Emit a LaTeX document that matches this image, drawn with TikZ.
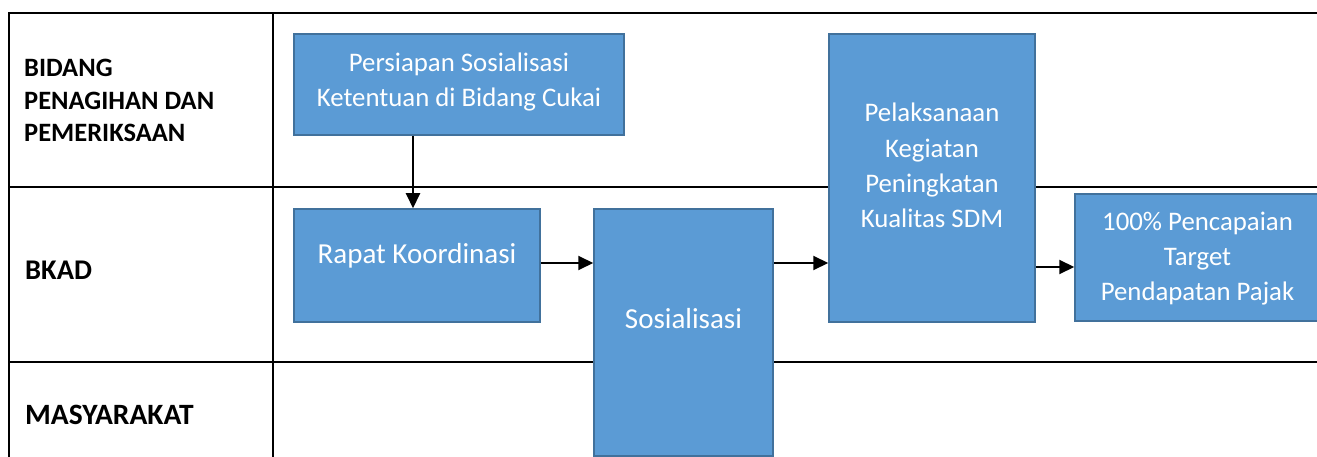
\documentclass[tikz,border=0pt]{standalone}
\usepackage{fontspec}
\setmainfont{Carlito}
\usetikzlibrary{arrows.meta}
\definecolor{boxfill}{HTML}{5B9BD5}
\definecolor{boxline}{HTML}{41719C}
\begin{document}
\begin{tikzpicture}[x=1pt,y=-1pt,
  lane/.style={line width=2pt, black},
  stepbox/.style={draw=boxline, fill=boxfill, line width=1.5pt, inner sep=0pt},
  boxtext/.style={text=white, align=center, inner sep=0pt, font=\fontsize{26.8}{35}\selectfont},
  bigtext/.style={text=white, align=center, inner sep=0pt, font=\fontsize{29}{35}\selectfont},
  lanelabel/.style={align=left, inner sep=0pt, anchor=base west},
  flow/.style={line width=2pt, -{Triangle[length=15pt,width=14pt]}}]
\useasboundingbox (0,0) rectangle (1317,457);
\fill[white] (0,0) rectangle (1317,457);

% swimlane grid
\draw[lane] (1317,13) -- (9,13) -- (9,457);
\draw[lane] (273,13) -- (273,457);
\draw[lane] (9,187) -- (1317,187);
\draw[lane] (9,362) -- (1317,362);

% lane titles (anchored on the baseline of their last line)
\node[lanelabel, font=\bfseries\fontsize{26.5}{32.5}\selectfont] (laneA) at (24,141.7) {BIDANG\\PENAGIHAN DAN\\PEMERIKSAAN};
\node[lanelabel, font=\bfseries\fontsize{28.5}{32.5}\selectfont] (laneB) at (25,279) {BKAD};
\node[lanelabel, font=\bfseries\fontsize{29.5}{32.5}\selectfont] (laneC) at (25,424) {MASYARAKAT};

% process boxes
\node[stepbox, minimum width=330pt, minimum height=101pt] (Persiapan) at (459,84.5) {};
\node[stepbox, minimum width=246pt, minimum height=113pt] (Rapat) at (417,265.5) {};
\node[stepbox, minimum width=179pt, minimum height=247pt] (Sos) at (683.5,332.5) {};
\node[stepbox, minimum width=206pt, minimum height=288pt] (Pelak) at (932,178) {};
\node[stepbox, minimum width=245pt, minimum height=127pt] (Target) at (1197.5,257.5) {};

% box captions
\node[boxtext, anchor=base] (tPersiapan) at (459,106.5) {Persiapan Sosialisasi\\Ketentuan di Bidang Cukai};
\node[bigtext, anchor=base] (tRapat) at (417,263) {Rapat Koordinasi};
\node[bigtext, anchor=base] (tSos) at (683.5,328) {Sosialisasi};
\node[boxtext, anchor=base] (tPelak) at (932,227) {Pelaksanaan\\Kegiatan\\Peningkatan\\Kualitas SDM};
\node[boxtext, anchor=base] (tTarget) at (1197.5,300) {100\% Pencapaian\\Target\\Pendapatan Pajak};

% connectors
\path (Rapat.north) ++(-4,0) coordinate (rapatIn);
\draw[flow] (Persiapan.south -| rapatIn) -- (rapatIn);
\path ([yshift=2.5pt]Rapat.east) coordinate (r1);
\draw[flow] (r1) -- (r1 -| Sos.west);
\path (r1 -| Sos.east) coordinate (s1);
\draw[flow] (s1) -- (s1 -| Pelak.west);
\path ([yshift=-9.5pt]Target.west) coordinate (t1);
\draw[flow] (t1 -| Pelak.east) -- (t1);
\end{tikzpicture}
\end{document}
